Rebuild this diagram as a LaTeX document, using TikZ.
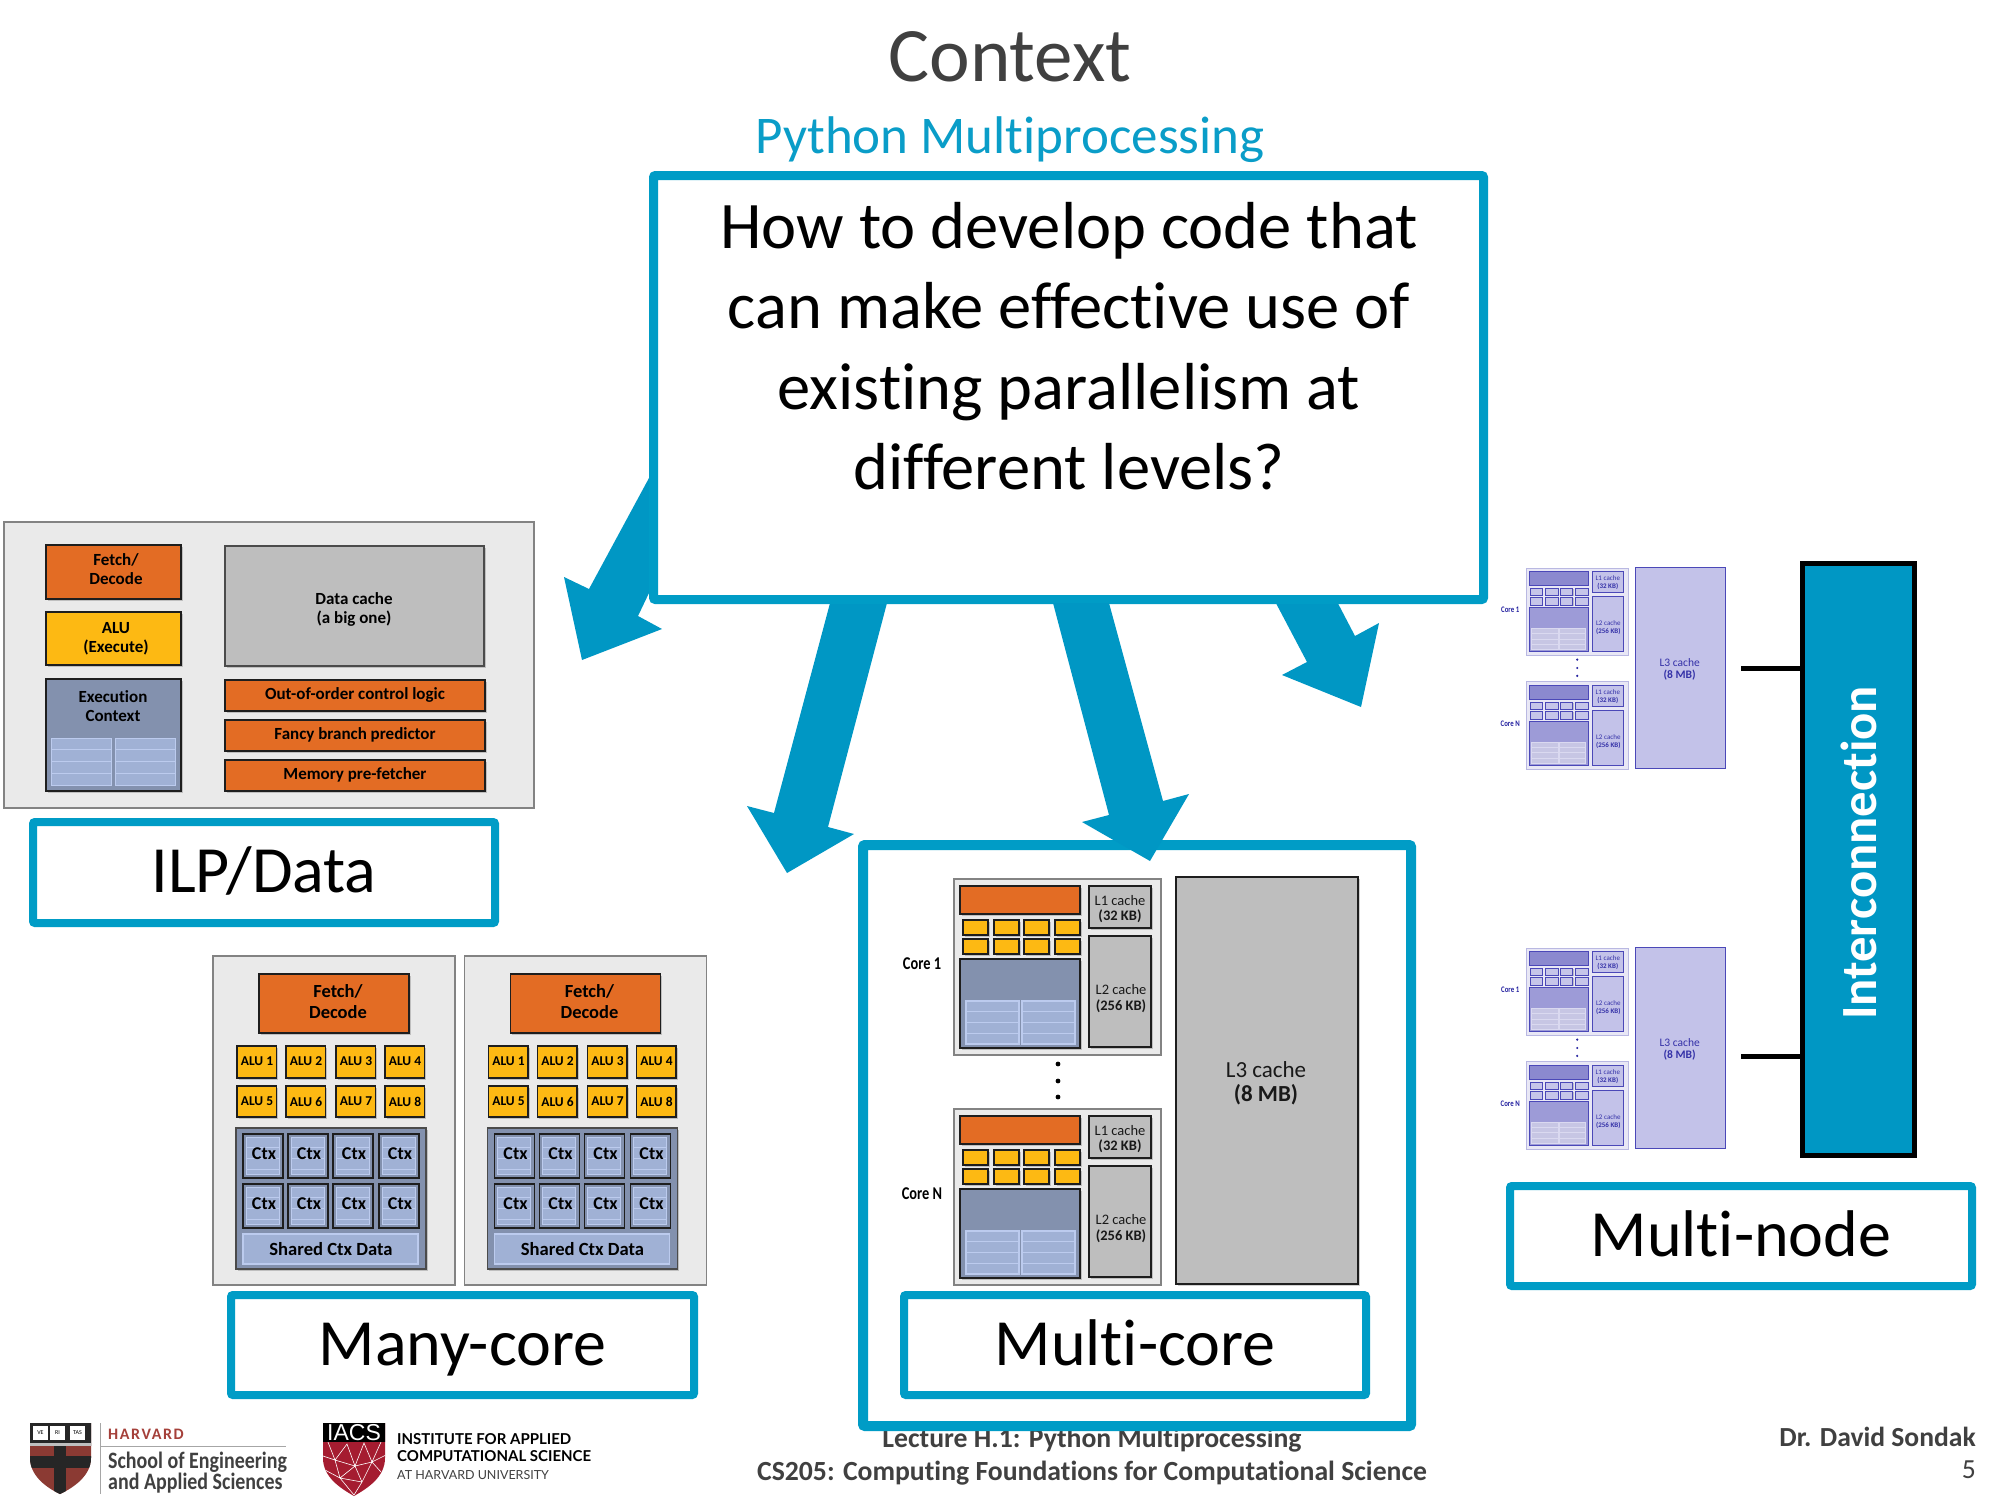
\documentclass[tikz,border=0pt]{standalone}
\usepackage{fontspec}
\setmainfont{Carlito}[Ligatures=NoCommon]
\newfontfamily\latofont{Lato}
\newfontfamily\libfont{Liberation Sans}
\definecolor{teal}{HTML}{009CC6}
\definecolor{arrowc}{HTML}{0097C4}
\definecolor{titleg}{HTML}{404040}
\definecolor{pyblue}{HTML}{0A9DC8}
\definecolor{hred}{HTML}{A5403A}
\definecolor{shieldred}{HTML}{8B3A33}
\definecolor{iacsred}{HTML}{A51C30}
\definecolor{gOut}{HTML}{838383}
\definecolor{orangeF}{HTML}{E36C24}
\definecolor{yellowF}{HTML}{FDB913}
\definecolor{execF}{HTML}{8391AE}
\definecolor{subF}{HTML}{A0B1D5}
\definecolor{subL}{HTML}{BCCBEE}
\definecolor{grayF}{HTML}{BEBEBE}
\definecolor{bgF}{HTML}{EAEAEA}
\definecolor{lineK}{HTML}{1E1E1E}
\newcommand\fsl[2]{\fontsize{#1pt}{#2pt}\selectfont}
\newcommand\bx[5]{\fill[black,opacity=.18] ([shift={(1.5,1.5)}]#2,#3) rectangle ([shift={(1.5,1.5)}]#4,#5);\draw[#1] (#2,#3) rectangle (#4,#5);}
\newcommand\subtab[4]{%
  \draw[fill=cSub,draw=cSubL,line width=\lw] (#1,#2) rectangle (#3,#4);
  \foreach \f in {.25,.5,.75}{\draw[draw=cSubL,line width=\lw] (#1,{#2+\f*(#4-#2)}) -- (#3,{#2+\f*(#4-#2)});}}
% chip in the coordinates of the multi-core drawing
\newcommand\coreunit[4]{% prefix, y offset, label, node-prefix
  \begin{scope}[shift={(0,#2)}]
    \draw[fill=cBg,draw=cOut,line width=\lwo] (954,879) rectangle (1161,1055);
    \bx{fill=cOr,draw=cLine,line width=\lw}{960}{886}{1080}{914}
    \bx{fill=cGr,draw=cLine,line width=\lw}{1089}{886}{1151}{928}
    \bx{fill=cGr,draw=cLine,line width=\lw}{1089}{936}{1151}{1047}
    \foreach \x in {963,994,1024,1055}{
      \bx{fill=cYe,draw=cLine,line width=\lw}{\x}{920}{\x+25}{935}
      \bx{fill=cYe,draw=cLine,line width=\lw}{\x}{939}{\x+25}{954}
    }
    \bx{fill=cEx,draw=cLine,line width=\lw}{960}{959}{1080}{1048}
    \subtab{966}{1001}{1019}{1044}
    \subtab{1022}{1001}{1075}{1044}
    \node[text=cTxt,align=center,font=\fsl{\fsA}{\fsAl}] (#1l1) at (1120,909) {L1 cache\\[-.1pt]\textbf{(32 KB)}};
    \node[text=cTxt,align=center,font=\fsl{\fsA}{\fsAl}] (#1l2) at (1121,999) {L2 cache\\\textbf{(256 KB)}};
    \node[text=cLab,font=\fsl{\fsC}{\fsC}\bfseries] (#1lab) at (\labx,964) {\scalebox{.8}[1]{#3}};
  \end{scope}}
\newcommand\chipfig[5]{% prefix, dx, dy, xscale, yscale
  \begin{scope}[shift={(#2,#3)},xscale=#4,yscale=#5]
    \coreunit{#1a}{0}{Core 1}{}
    \coreunit{#1b}{230}{Core N}{}
    \foreach \yy in {1064,1081,1097}{\fill[cLab] (1058,\yy) circle[radius=2.4];}
    \bx{fill=cGr,draw=cLine,line width=\lw}{1176}{877}{1358}{1284}
    \node[text=cTxt,align=center,font=\fsl{\fsB}{\fsBl}] (#1l3) at (1266,1083) {L3 cache\\\textbf{(8 MB)}};
  \end{scope}}
\newcommand\manycore[2]{% prefix, dx
  \begin{scope}[shift={(#2,0)}]
    \draw[fill=bgF,draw=gOut,line width=1.2pt] (213,956) rectangle (455,1285);
    \bx{fill=orangeF,draw=lineK,line width=1.3pt}{259}{974}{409}{1033}
    \node[font=\fsl{18.5}{21}\bfseries,align=center,text=black] (#1fetch) at (338,1001.5) {Fetch/\\Decode};
    \foreach \x/\n/\m in {237/1/5,286/2/6,336/3/7,385/4/8}{
      \bx{fill=yellowF,draw=lineK,line width=1.1pt}{\x}{1046}{\x+39.5}{1078}
      \bx{fill=yellowF,draw=lineK,line width=1.1pt}{\x}{1086}{\x+39.5}{1117}
      \node[font=\fsl{13.5}{14}\bfseries,text=black] (#1alu\n) at (\x+20,1061.5) {ALU \n};
      \node[font=\fsl{13.5}{14}\bfseries,text=black] (#1alu\m) at (\x+20,1101.5) {ALU \m};
    }
    \bx{fill=execF,draw=lineK!80,line width=1.3pt}{236}{1128}{426}{1269}
    \foreach \x in {243,288,333,379}{
      \foreach \y in {1134,1184}{
        \draw[fill=execF,draw=lineK,line width=1.1pt] (\x,\y) rectangle (\x+40,\y+44);
        \subtab{\x+3}{\y+3}{\x+36}{\y+40}
        \node[font=\fsl{18}{18}\bfseries,text=black] (#1ctx\x\y) at (\x+21,\y+20) {Ctx};
      }
    }
    \draw[fill=subF,draw=subL,line width=1.1pt] (243,1234) rectangle (418,1264);
    \node[font=\fsl{18.6}{19}\bfseries,text=black] (#1shared) at (331,1249) {Shared Ctx Data};
  \end{scope}}
\tikzset{
  lab/.style={draw=teal,fill=white,line width=8pt,rounded corners=2pt,inner sep=0pt,text=black,font=\fsl{66}{70},text height=40pt,text depth=0pt},
  blk/.style={fill=arrowc,draw=none},
  tt/.style={font=\fsl{17}{19}\bfseries,align=center,text=black},
  ll/.style={font=\fsl{17}{19}\bfseries,text=black}
}
\begin{document}
\begin{tikzpicture}[x=1pt,y=-1pt]
\fill[white] (0,0) rectangle (2000,1500);
\useasboundingbox (0,0) rectangle (2000,1500);
% titles
\node[font=\fsl{77}{80},text=titleg] (title) at (1010,57) {Context};
\node[font=\fsl{53}{56},text=pyblue] (sub) at (1010,140) {Python Multiprocessing};
% arrows behind the main box
\fill[blk] (649,478) -- (589,589) -- (564,577) -- (582,660) -- (662,629) -- (638,616) -- (660,570) -- (700,480) -- cycle;
\fill[blk] (833.5,590) -- (890.4,590) -- (828,827) -- (854,834) -- (787,873) -- (747,806) -- (774,813) -- cycle;
\fill[blk] (1269,590) -- (1331,590) -- (1355,636) -- (1379,623) -- (1361,707) -- (1282,675) -- (1307,662) -- cycle;
% main box
\node[draw=teal,fill=white,line width=9pt,rounded corners=2pt,minimum width=830pt,minimum height=424pt,inner sep=0pt] (main) at (1068.5,387.5) {};
\node[font=\fsl{66.5}{80.5},align=center,text=black] (mainq) at (1069,346) {How to develop code that\\can make effective use of\\existing parallelism at\\different levels?};
% ILP
\draw[fill=bgF,draw=gOut,line width=1.2pt] (4,522) rectangle (534,808);
\bx{fill=orangeF,draw=lineK,line width=1.2pt}{46}{545}{181}{599}
\bx{fill=yellowF,draw=lineK,line width=1.2pt}{46}{612}{181}{665}
\bx{fill=execF,draw=lineK,line width=1.2pt}{46}{679}{181}{791}
\bx{fill=grayF,draw=lineK!80,line width=1.2pt}{225}{546}{484}{666}
\bx{fill=orangeF,draw=lineK,line width=1.2pt}{225}{680}{485}{711}
\bx{fill=orangeF,draw=lineK,line width=1.2pt}{225}{720}{485}{751}
\bx{fill=orangeF,draw=lineK,line width=1.2pt}{225}{760}{485}{791}
\colorlet{cSub}{subF}\colorlet{cSubL}{subL}\def\lw{1pt}
\subtab{51}{738}{111}{785}
\subtab{115}{738}{175}{785}
\node[tt] (ifetch) at (116,569.5) {Fetch/\\Decode};
\node[tt] (ialu) at (116,638.5) {ALU\\(Execute)};
\node[tt] (iexec) at (113,706) {Execution\\Context};
\node[tt] (idata) at (354,609) {Data cache\\(a big one)};
\node[ll] (iooo) at (355,694.5) {Out-of-order control logic};
\node[ll] (ifancy) at (355,734.5) {Fancy branch predictor};
\node[ll] (imem) at (355,774.5) {Memory pre-fetcher};
\node[lab,minimum width=462pt,minimum height=101pt] (ilp) at (264,872.5) {ILP/Data};
% many-core
\manycore{ma}{0}
\manycore{mb}{251.5}
\node[lab,minimum width=463pt,minimum height=100pt] (many) at (462.5,1345) {Many-core};
% footer
\node[font=\fsl{27.7}{30}\bfseries,text=titleg] (lect) at (1092,1440) {Lecture H.1: Python Multiprocessing};
\node[font=\fsl{27.7}{30}\bfseries,text=titleg] (course) at (1092,1473) {CS205: Computing Foundations for Computational Science};
\node[font=\fsl{27.6}{28}\bfseries,text=titleg,anchor=east,inner sep=0pt] (author) at (1976,1437) {Dr. David Sondak};
\node[font=\fsl{27.6}{28},text=titleg,anchor=east,inner sep=0pt] (page) at (1976,1470) {5};
% multi-core box
\draw[draw=teal,line width=10pt,rounded corners=2pt] (863,845) rectangle (1411,1426);
\fill[blk] (1053,603) -- (1109,603) -- (1163,801) -- (1189,794) -- (1150,861) -- (1082,822) -- (1109,815) -- cycle;
% chip, full colour
\colorlet{cBg}{bgF}\colorlet{cOut}{gOut}\colorlet{cOr}{orangeF}\colorlet{cYe}{yellowF}\colorlet{cEx}{execF}
\colorlet{cSub}{subF}\colorlet{cSubL}{subL}\colorlet{cGr}{grayF}\colorlet{cLine}{lineK}\colorlet{cTxt}{black!90}\colorlet{cLab}{black}
\def\lw{1.3pt}\def\lwo{1.2pt}\def\fsA{14.5}\def\fsAl{16}\def\fsB{23}\def\fsBl{24}\def\fsC{18}\def\labx{922}
\chipfig{c}{0}{0}{1}{1}
\node[lab,minimum width=462pt,minimum height=100pt] (multi) at (1135,1345) {Multi-core};
% multi-node chips
\definecolor{cBg}{HTML}{E8E7F5}\definecolor{cOut}{HTML}{B9B8E2}\definecolor{cOr}{HTML}{8B89CF}\definecolor{cYe}{HTML}{C6C5E9}
\definecolor{cEx}{HTML}{9D9BD7}\definecolor{cSub}{HTML}{C7C6E4}\definecolor{cSubL}{HTML}{DAD9F0}\definecolor{cGr}{HTML}{C3C2E9}
\definecolor{cLine}{HTML}{4B48B8}\definecolor{cTxt}{HTML}{3532A8}\definecolor{cLab}{HTML}{2421A0}
\def\lw{.9pt}\def\lwo{.9pt}\def\fsA{7}\def\fsAl{8}\def\fsB{11.5}\def\fsBl{12}\def\fsC{8.5}\def\labx{922}
\chipfig{n}{1056.05}{132.9}{.4926}{.495}
\chipfig{k}{1056.05}{512.9}{.4926}{.495}
% interconnection
\node[draw=black,fill=arrowc,line width=5pt,minimum width=112pt,minimum height=592pt,inner sep=0pt] (inter) at (1858.5,859.5) {};
\node[rotate=90,font=\fsl{50.7}{52}\bfseries,text=white] (intert) at (1859,853) {Interconnection};
\coordinate (l1) at (1741,668);
\coordinate (l2) at (1741,1056);
\draw[black,line width=5pt] (l1) -- (l1 -| inter.west);
\draw[black,line width=5pt] (l2) -- (l2 -| inter.west);
\node[lab,minimum width=462pt,minimum height=100pt] (node) at (1741,1236) {Multi-node};
% Harvard shield
\begin{scope}
  \clip (30,1423) -- (91,1423) -- (91,1458) .. controls (91,1475) and (75,1487) .. (60,1494) .. controls (45,1487) and (30,1475) .. (30,1458) -- cycle;
  \fill[shieldred] (28,1420) rectangle (95,1498);
  \fill[black!85] (28,1420) rectangle (95,1446);
  \fill[black!85] (54,1446) rectangle (66,1496);
  \fill[black!85] (30,1456) rectangle (92,1468);
  \fill[white!75!black] (28,1443) rectangle (95,1446);
\end{scope}
\foreach \x/\t in {33/VE,50/RI,70/TAS}{
  \fill[white] (\x,1426) rectangle (\x+15,1440);
  \node[font=\fsl{6}{6},text=black,inner sep=0pt] (bk\t) at (\x+7.5,1433) {\t};
}
\draw[gray!70,line width=1pt] (100,1423) -- (100,1494);
\draw[gray!70,line width=1pt] (100,1446) -- (286,1446);
\node[font=\fsl{16}{18}\bfseries,text=hred,anchor=west,inner sep=0pt] (harv) at (108,1434) {\addfontfeature{LetterSpace=10}HARVARD};
\node[font=\fsl{23.5}{24},text=titleg,anchor=west,inner sep=0pt] (seas1) at (108,1462) {\scalebox{.85}[1]{\textbf{School of Engineering}}};
\node[font=\fsl{23.5}{24},text=titleg,anchor=west,inner sep=0pt] (seas2) at (108,1483) {\scalebox{.85}[1]{\textbf{and Applied Sciences}}};
% IACS shield
\begin{scope}
  \clip (323,1423) -- (385,1423) -- (385,1458) .. controls (385,1477) and (368,1488) .. (354,1496) .. controls (340,1488) and (323,1477) .. (323,1458) -- cycle;
  \fill[iacsred] (320,1420) rectangle (390,1500);
  \draw[white,line width=.6pt] (328,1442) -- (335,1460) -- (347,1444) -- (355,1466) -- (364,1443) -- (372,1462) -- (381,1442)
     (323,1456) -- (335,1460) -- (355,1466) -- (372,1462) -- (386,1455)
     (335,1460) -- (340,1478) -- (355,1466) -- (362,1482) -- (372,1462) -- (381,1472)
     (340,1478) -- (354,1495) -- (362,1482) -- (340,1478) (325,1470) -- (340,1478);
  \fill[black] (320,1420) rectangle (390,1442);
\end{scope}
\node[font=\fsl{23}{24},text=white,inner sep=0pt] (iacs) at (354,1432.5) {\libfont IACS};
\node[font=\fsl{15}{16},text=black,anchor=west,inner sep=0pt] (ia1) at (397,1439) {\latofont\bfseries INSTITUTE FOR APPLIED};
\node[font=\fsl{15}{16},text=black,anchor=west,inner sep=0pt] (ia2) at (397,1456) {\latofont\bfseries COMPUTATIONAL SCIENCE};
\node[font=\fsl{12.5}{14},text=black!75,anchor=west,inner sep=0pt] (ia3) at (397,1475) {\latofont AT HARVARD UNIVERSITY};
\end{tikzpicture}
\end{document}
